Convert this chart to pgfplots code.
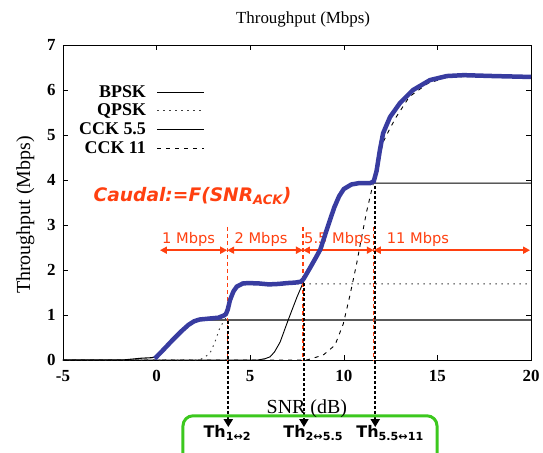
\documentclass[border=0pt]{standalone}
\usepackage{fontspec}
\setmainfont{Liberation Serif}
\newfontfamily\dejavu{DejaVu Sans}
\newfontfamily\libserif{Liberation Serif}
\usepackage{pgfplots}
\pgfplotsset{compat=1.18}
\usetikzlibrary{arrows.meta}
\definecolor{envblue}{RGB}{56,60,160}
\definecolor{annred}{RGB}{255,64,16}
\definecolor{boxgreen}{RGB}{60,200,30}
\newcommand\tklab[1]{\mbox{\libserif\bfseries\fontsize{17}{17}\selectfont #1}}
\newcommand\legtxt[1]{{\libserif\bfseries\fontsize{18}{18}\selectfont #1}}
\tikzset{redarr/.style={annred, line width=1.8bp, {Triangle[length=7bp,width=7bp]}-{Triangle[length=7bp,width=7bp]}},
  reddash/.style={annred, line width=1.2bp, dash pattern=on 4bp off 3bp},
  blkarr/.style={black, line width=2.2bp, dash pattern=on 3bp off 2bp, -{Triangle[length=8bp,width=9bp]}},
  mbps/.style={anchor=base, text=annred, font=\dejavu\fontsize{14.7}{15}\selectfont},
  thlab/.style={anchor=base west, font=\dejavu\bfseries\fontsize{16}{16}\selectfont}}

\begin{document}
\begin{tikzpicture}
\useasboundingbox (-63bp,-93bp) rectangle (480bp,360bp);
\begin{axis}[
 at={(0,0)}, anchor=south west,
 scale only axis, width=468bp, height=315bp,
 xmin=-5, xmax=20, ymin=0, ymax=7,
 xtick={-5,0,5,10,15,20}, ytick={0,1,2,3,4,5,6,7},
 xticklabels={\tklab{-5},\tklab{0},\tklab{5},\tklab{10},\tklab{15},\tklab{20}},
 yticklabels={\tklab{0},\tklab{1},\tklab{2},\tklab{3},\tklab{4},\tklab{5},\tklab{6},\tklab{7}},
 tick align=inside, major tick length=5bp,
 axis line style={line width=0.8bp}, tick style={line width=0.6bp, black},
 xticklabel style={yshift=-7bp}, yticklabel style={xshift=-4bp},
 title={Throughput (Mbps)},
 title style={font=\libserif\fontsize{17}{17}\selectfont, at={(0.513,1)}, anchor=base, yshift=16bp},
 xlabel={SNR (dB)},
 xlabel style={font=\libserif\fontsize{20}{20}\selectfont, at={(0.521,0)}, anchor=base, yshift=-53bp},
 ylabel={Throughput (Mbps)},
 ylabel style={font=\libserif\fontsize{20}{20}\selectfont, at={(-0.0705,0.46)}, anchor=base},
 clip=false,
 legend style={draw=none, fill=none, at={(0,1)}, anchor=north west, xshift=15bp, yshift=-39bp,
   inner sep=0pt, cells={anchor=east}, row sep=2.7bp,
   column sep=10bp, nodes={inner sep=1bp, text height=12bp, text depth=2bp}},
 legend plot pos=right,
 legend image code/.code={\draw[#1] (0bp,0bp) -- (47bp,0bp);},
]
% BPSK
\addplot[black, line width=1.1bp] coordinates {
(-5,0) (-1.8,0) (-1.3,0.02) (-0.8,0.04) (-0.3,0.05) (0,0.07) (0.5,0.27) (1,0.49) (1.5,0.7)
(1.8,0.8) (2.1,0.87) (2.5,0.89) (20,0.89)};
\addlegendentry{\legtxt{BPSK}}
% QPSK
\addplot[black!75, line width=1bp, dash pattern=on 1.5bp off 4.5bp] coordinates {
(-5,0) (2.2,0) (2.5,0.04) (2.85,0.15) (3.1,0.38) (3.4,0.74) (3.65,0.89) (3.8,1.05) (3.92,1.3)
(4.1,1.5) (4.28,1.62) (4.6,1.68) (5,1.69) (20,1.69)};
\addlegendentry{\legtxt{QPSK}}
% CCK 5.5
\addplot[black, line width=0.9bp] coordinates {
(-5,0) (5.4,0) (5.8,0.03) (6.06,0.07) (6.3,0.18) (6.6,0.4) (7.03,0.89) (7.5,1.4) (7.83,1.72)
(8.2,2.05) (8.5,2.27) (8.75,2.46) (9.0,2.78) (9.26,3.11) (9.5,3.4) (9.75,3.64) (10,3.8)
(10.4,3.9) (10.8,3.93) (20,3.93)};
\addlegendentry{\legtxt{CCK 5.5}}
% CCK 11
\addplot[black, line width=0.9bp, dash pattern=on 4bp off 5bp] coordinates {
(-5,0) (8.0,0) (8.2,0.02) (8.9,0.11) (9.53,0.33) (9.97,0.8) (10.33,1.44) (10.69,2.15) (10.87,2.55)
(11.22,3.3) (11.49,3.78) (11.8,4.3) (12.1,4.84) (12.47,5.15) (12.8,5.4) (13.5,5.85) (14.5,6.15)
(15.5,6.28) (16.5,6.3) (20,6.29)};
\addlegendentry{\legtxt{CCK 11}}

% red annotations
\node[anchor=base west, text=annred, font=\dejavu\bfseries\itshape\fontsize{18.7}{19}\selectfont]
  at (axis cs:-3.55,3.53) {Caudal:=F(SNR\textsubscript{ACK})};
\node[mbps] at (axis cs:1.71,2.6) {1 Mbps};
\node[mbps] at (axis cs:5.58,2.6) {2 Mbps};
\node[mbps] at (axis cs:9.67,2.6) {5.5 Mbps};
\node[mbps] at (axis cs:13.96,2.6) {11 Mbps};
\draw[redarr] (axis cs:0.18,2.44) -- (axis cs:3.77,2.44);
\draw[redarr] (axis cs:3.77,2.44) -- (axis cs:7.82,2.44);
\draw[redarr] (axis cs:7.82,2.44) -- (axis cs:11.6,2.44);
\draw[redarr] (axis cs:11.6,2.44) -- (axis cs:19.95,2.44);
\draw[reddash] (axis cs:3.77,2.96) -- (axis cs:3.77,0);
\draw[reddash] (axis cs:7.82,2.96) -- (axis cs:7.82,0);
\draw[reddash] (axis cs:11.6,2.96) -- (axis cs:11.6,0);

% envelope
\addplot[envblue, line width=4.5bp, forget plot] coordinates {
(-0.1,0.03) (0.3,0.2) (0.8,0.42) (1.3,0.63) (1.7,0.78) (2.0,0.86) (2.3,0.9) (2.8,0.92) (3.3,0.94)
(3.6,0.99) (3.7,1.02) (3.8,1.12) (3.92,1.33) (4.1,1.52) (4.28,1.63) (4.6,1.7) (4.9,1.71) (5.5,1.70)
(6.0,1.68) (6.5,1.69) (7.0,1.71) (7.4,1.72) (7.7,1.74) (7.85,1.8) (8.2,2.05) (8.5,2.27) (8.75,2.46)
(9.0,2.78) (9.26,3.11) (9.5,3.4) (9.75,3.64) (10.0,3.8) (10.4,3.9) (10.8,3.93) (11.4,3.93)
(11.6,3.97) (11.75,4.2) (11.93,4.67) (12.1,5.04) (12.47,5.4) (13.0,5.71) (13.7,6.0) (14.6,6.22)
(15.5,6.31) (16.4,6.33) (18,6.31) (20,6.29)};

% black threshold arrows
\draw[blkarr] (axis cs:3.83,0.87) -- (axis cs:3.83,-1.49);
\draw[blkarr] (axis cs:7.87,1.71) -- (axis cs:7.87,-1.49);
\draw[blkarr] (axis cs:11.68,3.87) -- (axis cs:11.68,-1.49);

% green box
\draw[boxgreen, line width=3bp, rounded corners=10bp]
  (axis cs:1.41,-2.6) -- (axis cs:1.41,-1.24) -- (axis cs:14.98,-1.24) -- (axis cs:14.98,-2.6);
\node[thlab] at (axis cs:2.32,-1.73) {Th\textsubscript{1↔2}};
\node[thlab] at (axis cs:6.59,-1.73) {Th\textsubscript{2↔5.5}};
\node[thlab] at (axis cs:10.49,-1.73) {Th\textsubscript{5.5↔11}};
\end{axis}
\end{tikzpicture}
\end{document}
